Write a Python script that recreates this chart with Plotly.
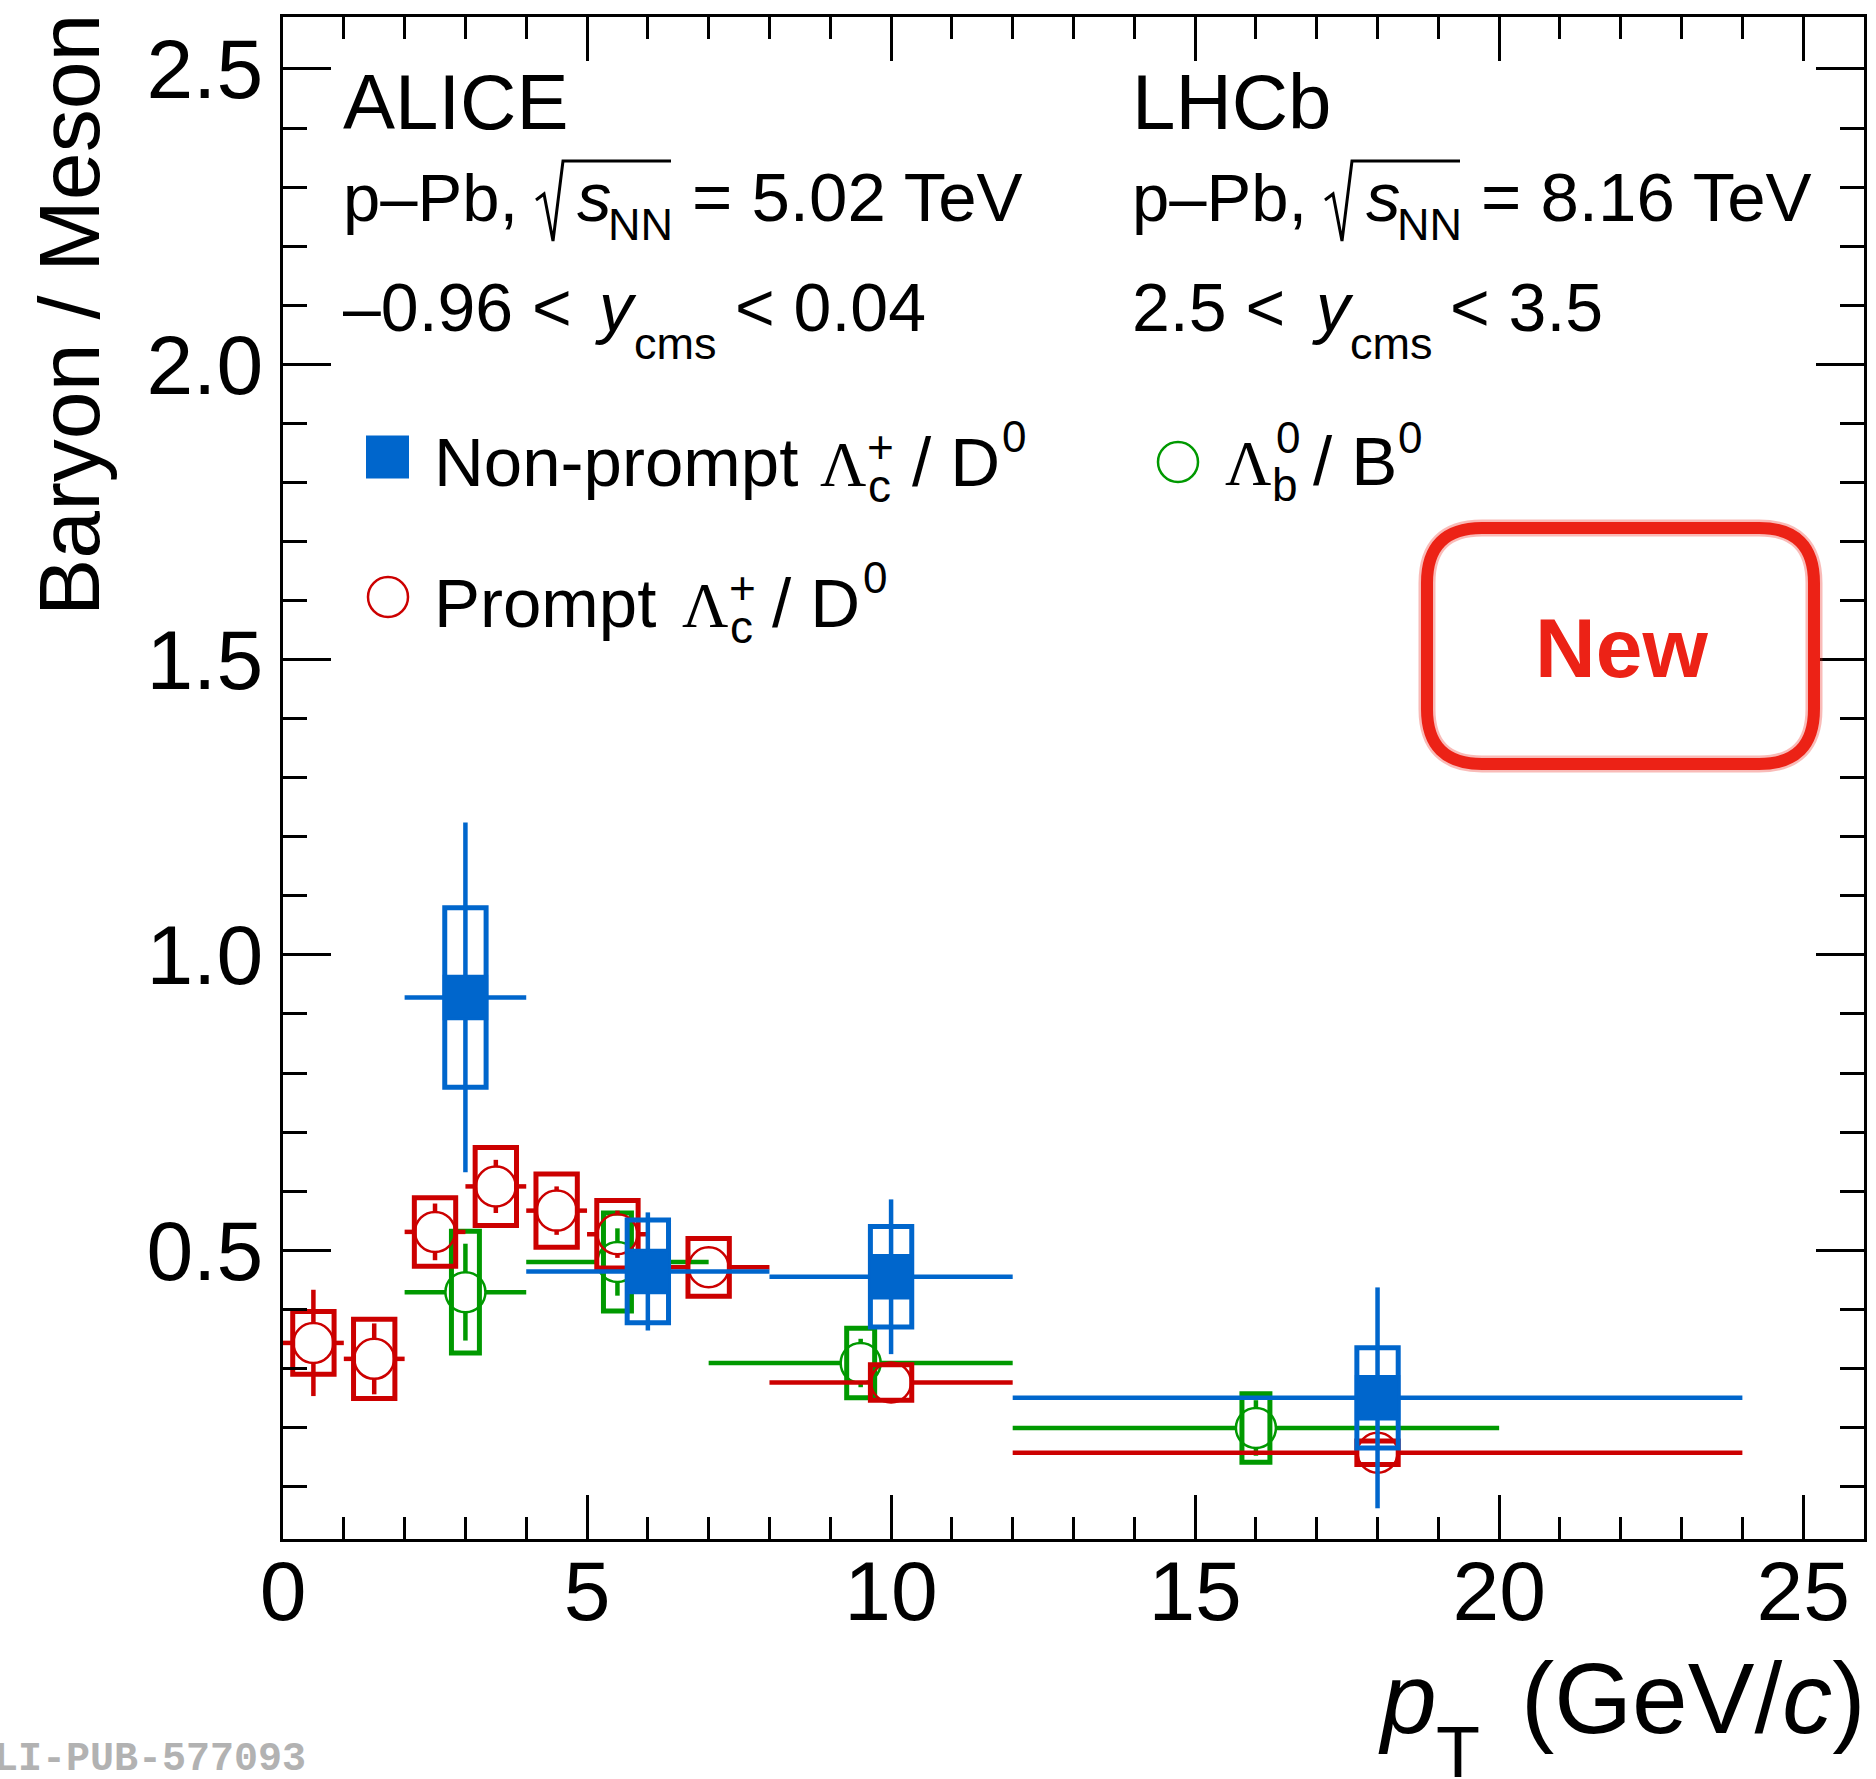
import plotly.graph_objects as go

# ---------------------------------------------------------------------------
# Data: baryon-to-meson ratios versus pT
# ---------------------------------------------------------------------------
# ALICE, prompt Lambda_c+ / D0, p-Pb sqrt(s_NN) = 5.02 TeV
prompt_pt      = [0.5, 1.5, 2.5, 3.5, 4.5, 5.5, 7.0, 10.0, 18.0]
prompt_halfbin = [0.5, 0.5, 0.5, 0.5, 0.5, 0.5, 1.0, 2.0, 6.0]
prompt_ratio   = [0.343, 0.316, 0.531, 0.608, 0.567, 0.527, 0.471, 0.276, 0.157]
prompt_stat    = [0.090, 0.060, 0.048, 0.045, 0.041, 0.040, 0.030, 0.020, 0.020]
prompt_syst    = [0.053, 0.067, 0.058, 0.066, 0.062, 0.057, 0.049, 0.030, 0.020]

# ALICE, non-prompt Lambda_c+ / D0, p-Pb sqrt(s_NN) = 5.02 TeV
nonprompt_pt      = [3.0, 6.0, 10.0, 18.0]
nonprompt_halfbin = [1.0, 2.0, 2.0, 6.0]
nonprompt_ratio   = [0.928, 0.464, 0.455, 0.250]
nonprompt_stat    = [0.296, 0.100, 0.131, 0.187]
nonprompt_syst    = [0.152, 0.087, 0.085, 0.085]

# LHCb, Lambda_b0 / B0, p-Pb sqrt(s_NN) = 8.16 TeV
lb_pt      = [3.0, 5.5, 9.5, 16.0]
lb_halfbin = [1.0, 1.5, 2.5, 4.0]
lb_ratio   = [0.429, 0.480, 0.309, 0.199]
lb_stat    = [0.082, 0.057, 0.041, 0.047]
lb_syst    = [0.103, 0.083, 0.059, 0.058]

x_tick_values = [0, 5, 10, 15, 20, 25]
y_tick_values = [0.5, 1.0, 1.5, 2.0, 2.5]
y_tick_labels = ["0.5", "1.0", "1.5", "2.0", "2.5"]

# ---------------------------------------------------------------------------
# Geometry and style
# ---------------------------------------------------------------------------
FIG_W, FIG_H = 1876, 1779
M_L, M_R, M_T, M_B = 283, 12, 17, 240
PLOT_W = FIG_W - M_L - M_R
PLOT_H = FIG_H - M_T - M_B
X_RANGE = [0.0, 26.0]
Y_RANGE = [0.011, 2.588]
PX_PER_X = PLOT_W / (X_RANGE[1] - X_RANGE[0])
PX_PER_Y = PLOT_H / (Y_RANGE[1] - Y_RANGE[0])

BLUE = "rgb(0,102,204)"
RED = "rgb(204,0,0)"
GREEN = "rgb(0,153,0)"
STAMP_RED = "rgb(236,34,22)"

SANS = "Liberation Sans"
SERIF = "Liberation Serif"
MONO = "Liberation Mono"
FONT_METRICS = {SANS: (0.905, 0.212), SERIF: (0.891, 0.216), MONO: (0.833, 0.300)}

BAR_WIDTH = 4.5
BOX_WIDTH = 5
CIRCLE_SIZE = 40
SQUARE_SIZE = 43
TEXT_SIZE = 69


def paper_x(px):
    return (px - M_L) / PLOT_W


def paper_y(py):
    return (FIG_H - M_B - py) / PLOT_H


def syst_boxes(xs, ys, errs, half_width):
    """Closed rectangles for the systematic uncertainties."""
    bx, by = [], []
    for x, y, e in zip(xs, ys, errs):
        lo, hi = y - e, y + e
        bx += [x - half_width, x + half_width, x + half_width, x - half_width, x - half_width, x + half_width, None]
        by += [lo, lo, hi, hi, lo, lo, None]
    return bx, by


def stat_bars(xs, ys, stats, halfbins, gap_px):
    """Statistical (vertical) and bin-width (horizontal) bars, leaving a gap around the marker."""
    gx = gap_px / PX_PER_X
    gy = gap_px / PX_PER_Y
    bx, by = [], []
    for x, y, s, h in zip(xs, ys, stats, halfbins):
        if s > gy:
            bx += [x, x, None, x, x, None]
            by += [y + gy, y + s, None, y - gy, y - s, None]
        if h > gx:
            bx += [x - h, x - gx, None, x + gx, x + h, None]
            by += [y, y, None, y, y, None]
    return bx, by


fig = go.Figure()


def add_series(xs, ys, stats, systs, halfbins, color, box_half, symbol, size):
    bx, by = syst_boxes(xs, ys, systs, box_half)
    fig.add_trace(go.Scatter(x=bx, y=by, mode="lines", line=dict(color=color, width=BOX_WIDTH),
                             hoverinfo="skip", showlegend=False))
    ex, ey = stat_bars(xs, ys, stats, halfbins, size / 2)
    fig.add_trace(go.Scatter(x=ex, y=ey, mode="lines", line=dict(color=color, width=BAR_WIDTH),
                             hoverinfo="skip", showlegend=False))
    fig.add_trace(go.Scatter(x=xs, y=ys, mode="markers",
                             marker=dict(symbol=symbol, size=size, color=color, line=dict(width=2.5, color=color)),
                             showlegend=False))


add_series(lb_pt, lb_ratio, lb_stat, lb_syst, lb_halfbin, GREEN, 0.23, "circle-open", CIRCLE_SIZE)
add_series(prompt_pt, prompt_ratio, prompt_stat, prompt_syst, prompt_halfbin, RED, 0.34, "circle-open", CIRCLE_SIZE)
add_series(nonprompt_pt, nonprompt_ratio, nonprompt_stat, nonprompt_syst, nonprompt_halfbin, BLUE, 0.34, "square", SQUARE_SIZE)

# ---------------------------------------------------------------------------
# Text
# ---------------------------------------------------------------------------
annotations = []


def label(text, x, baseline, size, family=SANS, color="black", xanchor="left"):
    asc, desc = FONT_METRICS[family]
    mid = baseline - (asc - (asc + desc) / 2) * size
    annotations.append(dict(text=text, x=paper_x(x), y=paper_y(mid), xref="paper", yref="paper",
                            xanchor=xanchor, yanchor="middle", showarrow=False,
                            borderpad=0, borderwidth=0,
                            font=dict(family=family, size=size, color=color)))


# experiment blocks: name, collision energy and rapidity window
# (x of block, name, energy, rapidity lower/upper, x of "y", x of "cms", x of "<")
blocks = [
    (343, "ALICE", "5.02", "–0.96", "0.04", 595, 634, 735),
    (1132, "LHCb", "8.16", "2.5", "3.5", 1312, 1350, 1450),
]
for x0, name, energy, y_lo, y_hi, x_y, x_cms, x_lt in blocks:
    label(name, x0, 129, 78)
    label("p–Pb,", x0, 221, 67)
    label("<i>s</i>", x0 + 234, 221, TEXT_SIZE)
    label("NN", x0 + 265, 240, 45)
    label(f"= {energy} TeV", x0 + 349, 221, TEXT_SIZE)
    label(f"{y_lo} <", x0, 331, 68)
    label("<i>y</i>", x_y, 331, 68)
    label("cms", x_cms, 359, 45)
    label(f"< {y_hi}", x_lt, 331, 68)

# legend entries
label("Non-prompt", 434, 486, TEXT_SIZE)
label("Λ", 820, 486, 64, family=SERIF)
label("c", 868, 502, 46)
label("+", 867, 463, 46)
label("/ D", 912, 486, TEXT_SIZE)
label("0", 1002, 452, 44)

label("Prompt", 434, 627, TEXT_SIZE)
label("Λ", 682, 627, 64, family=SERIF)
label("c", 730, 643, 46)
label("+", 729, 604, 46)
label("/ D", 772, 627, TEXT_SIZE)
label("0", 863, 593, 44)

label("Λ", 1225, 485, 64, family=SERIF)
label("b", 1272, 501, 46)
label("0", 1276, 453, 44)
label("/ B", 1313, 485, TEXT_SIZE)
label("0", 1398, 453, 44)

# stamp
label("<b>New</b>", 1621, 677, 84, color=STAMP_RED, xanchor="center")

# axis titles
label("(GeV/<i>c</i>)", 1866, 1733, 100, xanchor="right")
label("<i>p</i>", 1378, 1733, 100)
label("T", 1436, 1777, 72)
annotations.append(dict(text="Baryon / Meson", x=paper_x(69), y=paper_y(315), xref="paper", yref="paper",
                        xanchor="center", yanchor="middle", textangle=-90, showarrow=False,
                        borderpad=0, borderwidth=0, font=dict(family=SANS, size=86, color="black")))

# figure id
label("<b>ALI-PUB-577093</b>", 306, 1770, 40, family=MONO, color="rgb(178,178,178)", xanchor="right")

# ---------------------------------------------------------------------------
# Shapes: square-root signs, legend symbols, stamp frame
# ---------------------------------------------------------------------------
shapes = []


def px_path(points, close=False):
    s = "M " + " L ".join(f"{paper_x(x):.5f},{paper_y(y):.5f}" for x, y in points)
    return s + (" Z" if close else "")


for x0 in (343, 1132):
    radical = [(x0 + 193, 200), (x0 + 201, 194), (x0 + 210, 241), (x0 + 220, 161), (x0 + 328, 161)]
    shapes.append(dict(type="path", xref="paper", yref="paper", path=px_path(radical),
                       line=dict(color="black", width=3)))

# legend markers
shapes.append(dict(type="rect", xref="paper", yref="paper",
                   x0=paper_x(366), x1=paper_x(409), y0=paper_y(478.5), y1=paper_y(435.5),
                   fillcolor=BLUE, line=dict(width=0)))
for cx, cy, col in [(388, 597, RED), (1178, 462, GREEN)]:
    shapes.append(dict(type="circle", xref="paper", yref="paper",
                       x0=paper_x(cx - 20), x1=paper_x(cx + 20), y0=paper_y(cy + 20), y1=paper_y(cy - 20),
                       line=dict(color=col, width=2.5)))


def rounded_rect(x0, y0, x1, y1, r):
    def p(x, y):
        return f"{paper_x(x):.5f},{paper_y(y):.5f}"
    return (f"M {p(x0 + r, y0)} L {p(x1 - r, y0)} Q {p(x1, y0)} {p(x1, y0 + r)} "
            f"L {p(x1, y1 - r)} Q {p(x1, y1)} {p(x1 - r, y1)} L {p(x0 + r, y1)} "
            f"Q {p(x0, y1)} {p(x0, y1 - r)} L {p(x0, y0 + r)} Q {p(x0, y0)} {p(x0 + r, y0)} Z")


shapes.append(dict(type="path", xref="paper", yref="paper", path=rounded_rect(1427, 528, 1814, 764, 55),
                   line=dict(color=STAMP_RED, width=17), opacity=0.3))
shapes.append(dict(type="path", xref="paper", yref="paper", path=rounded_rect(1427, 528, 1814, 764, 55),
                   line=dict(color=STAMP_RED, width=12)))

# ---------------------------------------------------------------------------
# Layout
# ---------------------------------------------------------------------------
axis_common = dict(showgrid=False, zeroline=False, showline=True, linewidth=3, linecolor="black",
                   mirror="ticks", ticks="inside", tickwidth=3, tickcolor="black",
                   tickfont=dict(family=SANS, size=84, color="black"), automargin=False)

fig.update_layout(
    width=FIG_W, height=FIG_H,
    margin=dict(l=M_L, r=M_R, t=M_T, b=M_B, pad=0),
    paper_bgcolor="white", plot_bgcolor="white",
    showlegend=False,
    xaxis=dict(range=X_RANGE, tickmode="array", tickvals=x_tick_values,
               ticktext=[str(v) for v in x_tick_values], ticklen=44, ticklabelstandoff=-23,
               minor=dict(tickmode="linear", tick0=0, dtick=1, ticks="inside", ticklen=22,
                          tickwidth=3, tickcolor="black"),
               **axis_common),
    yaxis=dict(range=Y_RANGE, tickmode="array", tickvals=y_tick_values, ticktext=y_tick_labels,
               ticklen=48, ticklabelstandoff=0,
               minor=dict(tickmode="linear", tick0=0, dtick=0.1, ticks="inside", ticklen=24,
                          tickwidth=3, tickcolor="black"),
               **axis_common),
    annotations=annotations,
    shapes=shapes,
)

fig.write_html("out.html")
